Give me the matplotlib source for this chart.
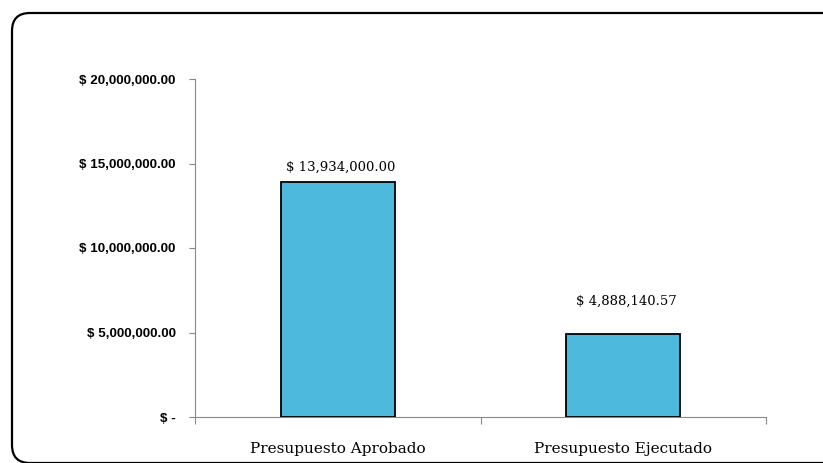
import matplotlib
matplotlib.use("Agg")
import matplotlib.pyplot as plt
from matplotlib.patches import FancyBboxPatch
from matplotlib.ticker import FuncFormatter

# chart data
categories = ["Presupuesto Aprobado", "Presupuesto Ejecutado"]
values = [13934000.00, 4888140.57]
yticks = [0, 5000000, 10000000, 15000000, 20000000]
label_offsets = [8, 21]  # points above bar top (second label was moved up in the source)

bar_color = "#4db9dd"


def money(v, pos=None):
    if v == 0:
        return "$ -"
    return "$ {:,.2f}".format(v)


fig = plt.figure(figsize=(8.23, 4.63), dpi=100)
ax = fig.add_axes([195 / 823, 46 / 463, 571 / 823, 338 / 463])

x = list(range(len(categories)))
ax.bar(x, values, width=0.4, color=bar_color, edgecolor="black", linewidth=1.3, zorder=3)

for xi, v, off in zip(x, values, label_offsets):
    ax.annotate(money(v), (xi, v), xytext=(2, off), textcoords="offset points",
                ha="center", va="baseline", fontsize=9.5, family="DejaVu Serif")

ax.set_xlim(-0.5, 1.5)
ax.set_ylim(0, 20000000)
ax.set_yticks(yticks)
ax.yaxis.set_major_formatter(FuncFormatter(money))
for lab in ax.get_yticklabels():
    lab.set_fontfamily("Liberation Sans")
    lab.set_fontweight("bold")
    lab.set_fontsize(9.6)
ax.tick_params(axis="y", direction="out", length=4, width=0.8, color="#888888", pad=10)

# category labels at the centres, tick marks at the boundaries
ax.set_xticks(x)
ax.set_xticklabels(categories, family="DejaVu Serif", fontsize=11)
ax.set_xticks([-0.5, 0.5, 1.5], minor=True)
ax.tick_params(axis="x", which="major", length=0, pad=18)
ax.tick_params(axis="x", which="minor", direction="out", length=5, width=0.8, color="#888888")

for s in ["top", "right"]:
    ax.spines[s].set_visible(False)
for s in ["left", "bottom"]:
    ax.spines[s].set_color("#888888")
    ax.spines[s].set_linewidth(0.8)

# rounded frame around the chart (runs off right/bottom edge like the scan)
frame = FancyBboxPatch((12, 0), 850, 450, boxstyle="round,pad=0,rounding_size=18",
                       transform=None, fill=False, edgecolor="black", linewidth=1.6)
fig.patches.append(frame)

fig.savefig("out.png", dpi=100)
